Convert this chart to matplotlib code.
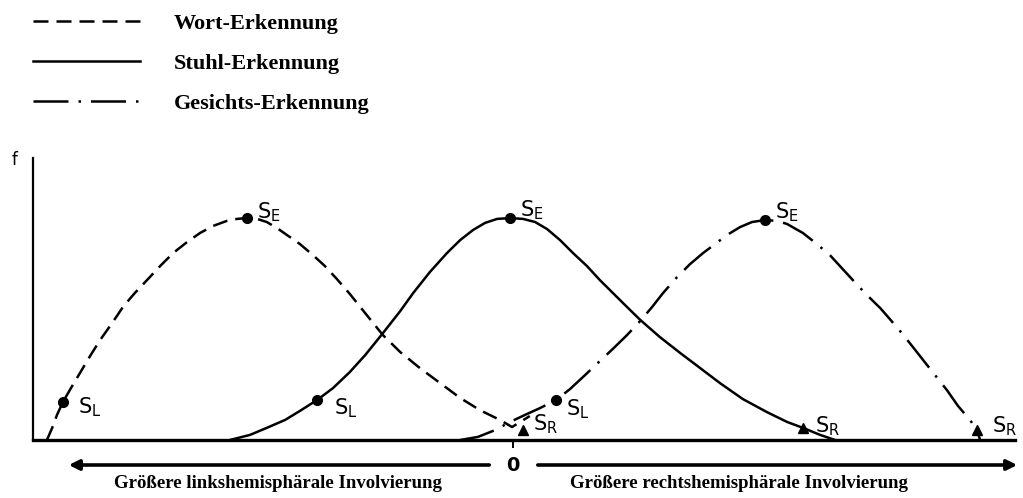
import matplotlib
matplotlib.use("Agg")
import matplotlib.pyplot as plt
from matplotlib.lines import Line2D

# ---------------- data (x: -1 = far left, 0 = centre; f: 0..1) ----------------
wort_x = [-0.971, -0.960, -0.950, -0.9375, -0.921, -0.902, -0.881, -0.860, -0.835, -0.8125,
          -0.788, -0.7625, -0.735, -0.708, -0.679, -0.652, -0.625, -0.596, -0.575, -0.554,
          -0.533, -0.513, -0.492, -0.471, -0.444, -0.417, -0.392, -0.367, -0.340, -0.308,
          -0.271, -0.235, -0.194, -0.152, -0.110, -0.069, -0.027, -0.002, 0.035]
wort_f = [0.0, 0.043, 0.089, 0.135, 0.184, 0.238, 0.298, 0.355, 0.415, 0.472,
          0.521, 0.567, 0.617, 0.663, 0.702, 0.734, 0.759, 0.777, 0.784, 0.787,
          0.784, 0.773, 0.752, 0.727, 0.695, 0.656, 0.617, 0.571, 0.518, 0.450,
          0.372, 0.312, 0.255, 0.202, 0.149, 0.106, 0.071, 0.046, 0.085]

stuhl_x = [-0.590, -0.548, -0.513, -0.475, -0.444, -0.408, -0.375, -0.340, -0.308, -0.271,
           -0.235, -0.208, -0.173, -0.1375, -0.110, -0.083, -0.058, -0.033, -0.006, 0.021,
           0.046, 0.071, 0.098, 0.125, 0.154, 0.181, 0.229, 0.265, 0.306, 0.348,
           0.390, 0.431, 0.479, 0.529, 0.571, 0.604, 0.640, 0.671]
stuhl_f = [0.0, 0.018, 0.043, 0.071, 0.103, 0.142, 0.184, 0.241, 0.301, 0.379,
           0.457, 0.521, 0.596, 0.663, 0.709, 0.745, 0.770, 0.784, 0.787, 0.784,
           0.773, 0.748, 0.709, 0.663, 0.617, 0.567, 0.486, 0.426, 0.365, 0.309,
           0.255, 0.202, 0.145, 0.099, 0.064, 0.043, 0.018, 0.0]

gesicht_x = [-0.110, -0.073, -0.0375, -0.006, 0.025, 0.056, 0.090, 0.119, 0.150, 0.181,
             0.208, 0.2375, 0.265, 0.290, 0.3125, 0.342, 0.369, 0.396, 0.421, 0.446,
             0.473, 0.498, 0.525, 0.550, 0.571, 0.604, 0.633, 0.660, 0.681, 0.708,
             0.735, 0.765, 0.785, 0.810, 0.833, 0.869, 0.904, 0.927, 0.952, 0.967, 0.973]
gesicht_f = [0.0, 0.011, 0.035, 0.064, 0.089, 0.113, 0.142, 0.181, 0.230, 0.280,
             0.323, 0.372, 0.422, 0.472, 0.521, 0.578, 0.624, 0.663, 0.695, 0.727,
             0.755, 0.773, 0.780, 0.777, 0.766, 0.734, 0.695, 0.656, 0.617, 0.567,
             0.518, 0.468, 0.429, 0.379, 0.330, 0.252, 0.177, 0.121, 0.071, 0.035, 0.0]

# characteristic points S_E / S_L / S_R of each curve
points_x = [-0.554, -0.9375, 0.021, -0.006, -0.408, 0.604, 0.525, 0.090, 0.967]
points_f = [0.787, 0.135, 0.035, 0.787, 0.142, 0.043, 0.780, 0.142, 0.035]
points_lab = ["E", "L", "R", "E", "L", "R", "E", "L", "R"]
label_offsets = [(7, 4), (11, -4), (7, 4), (7, 6), (12, -6), (9, 1), (7, 6), (7, -7), (11, 3)]

legend_labels = ["Wort-Erkennung", "Stuhl-Erkennung", "Gesichts-Erkennung"]
axis_left_label = "Größere linkshemisphärale Involvierung"
axis_right_label = "Größere rechtshemisphärale Involvierung"

# ---------------- figure ----------------
W, H = 1023, 498
fig = plt.figure(figsize=(W / 100, H / 100), dpi=100)
ax = fig.add_axes([33 / W, (H - 440) / H, (1015 - 33) / W, (440 - 158) / H])
ax.set_xlim(-1.0, (1015 - 513) / 480)
ax.set_ylim(0, 1.0)
for s in ["top", "right"]:
    ax.spines[s].set_visible(False)
ax.spines["left"].set_linewidth(1.6)
ax.spines["bottom"].set_linewidth(2.4)
ax.set_yticks([])
ax.set_xticks([0])
ax.tick_params(axis="x", length=6, width=1.4, labelbottom=False, direction="out")

lw = 1.8
styles = [(0, (6, 3.2)), "-", (0, (14, 4, 1, 4))]
ax.plot(wort_x, wort_f, color="black", lw=lw, linestyle=styles[0], clip_on=False)
ax.plot(stuhl_x, stuhl_f, color="black", lw=lw, linestyle=styles[1], clip_on=False)
ax.plot(gesicht_x, gesicht_f, color="black", lw=lw, linestyle=styles[2], clip_on=False)

for x, f, lab, off in zip(points_x, points_f, points_lab, label_offsets):
    mk = "^" if lab == "R" else "o"
    ax.plot([x], [f], marker=mk, color="black", markersize=7, clip_on=False)
    ax.annotate(r"$\mathsf{S_%s}$" % lab, (x, f), xytext=off, textcoords="offset points",
                ha="left", va="center", fontsize=15, color="black", annotation_clip=False)

# y-axis label f
fig.text(15 / W, 1 - 160 / H, "f", fontsize=12, ha="center", va="center", family="DejaVu Sans")

# legend
handles = [Line2D([], [], color="black", lw=lw, linestyle=st) for st in styles]
fig.legend(handles, legend_labels, loc="upper left", bbox_to_anchor=(33 / W, 1 - 13 / H),
           frameon=False, borderpad=0, borderaxespad=0, handlelength=4.8,
           handletextpad=1.55, labelspacing=0.88,
           prop={"family": "Liberation Serif", "weight": "bold", "size": 16})

# bottom arrows and labels
ya = -(465 - 440) / 282
ax.annotate("", xy=(-(513 - 66) / 480, ya), xytext=(-(513 - 492) / 480, ya),
            arrowprops=dict(arrowstyle="-|>", lw=2.6, color="black", mutation_scale=15),
            annotation_clip=False)
ax.annotate("", xy=((1020 - 513) / 480, ya), xytext=((535 - 513) / 480, ya),
            arrowprops=dict(arrowstyle="-|>", lw=2.6, color="black", mutation_scale=15),
            annotation_clip=False)
ax.text(0, ya, "0", ha="center", va="center", fontsize=14, family="DejaVu Sans",
        weight="bold", clip_on=False)

yl = -(483 - 440) / 282
ax.text(-(513 - 278) / 480, yl, axis_left_label, ha="center", va="center",
        family="Liberation Serif", weight="bold", fontsize=13.5, clip_on=False)
ax.text((739 - 513) / 480, yl, axis_right_label, ha="center", va="center",
        family="Liberation Serif", weight="bold", fontsize=13.5, clip_on=False)

fig.savefig("out.png", dpi=100)
